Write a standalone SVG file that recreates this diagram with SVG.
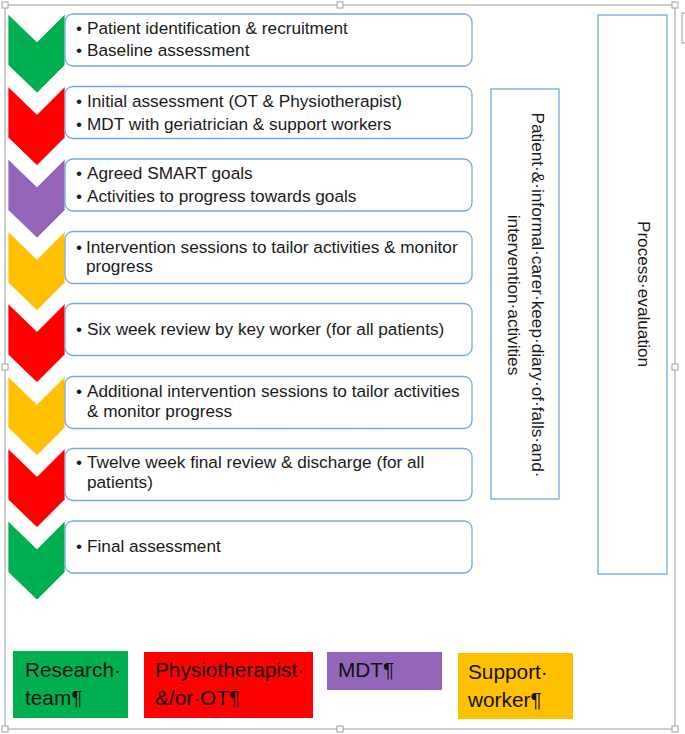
<svg xmlns="http://www.w3.org/2000/svg" width="685" height="734" viewBox="0 0 685 734">
<style>
.frame{fill:none;stroke:#b4b4b4;stroke-width:1.3}
.handle{fill:#fff;stroke:#a0a0a0;stroke-width:1}
.box{fill:#fff;stroke:#74a9df;stroke-width:1.3}
.t{font-family:"Liberation Sans",Arial,sans-serif;font-size:17.2px;fill:#1a1a1a}
.lg{font-family:"Liberation Sans",Arial,sans-serif;font-size:20.8px;fill:#111}
.g{fill:#00b050}.r{fill:#ff0000}.p{fill:#9565b9}.y{fill:#ffc000}
</style>
<defs>
<path id="chev" d="M8 0 L37 28 L65 0 V51 L37 79 L8 51 Z" stroke="#f2f7fc" stroke-width="0.8"/>
</defs>
<rect width="685" height="734" fill="#fff"/>
<g id="frame">
<rect class="frame" x="5" y="5" width="670" height="724"/>
<path class="frame" d="M686 13 H682 V43 H686"/>
<rect class="handle" x="2" y="2" width="6" height="6"/>
<rect class="handle" x="337" y="2" width="6" height="6"/>
<rect class="handle" x="672" y="2" width="6" height="6"/>
<rect class="handle" x="2" y="364" width="6" height="6"/>
<rect class="handle" x="672" y="364" width="6" height="6"/>
<rect class="handle" x="2" y="726" width="6" height="6"/>
<rect class="handle" x="337" y="726" width="6" height="6"/>
<rect class="handle" x="672" y="726" width="6" height="6"/>
</g>
<g id="connectors"></g>
<g id="step1" transform="translate(0,14)">
<use href="#chev" class="g"/>
<rect class="box" x="65" y="0" width="407" height="52" rx="8"/>
<text class="t" x="76" y="19.5">•</text><text class="t" x="87" y="19.5">Patient identification &amp; recruitment</text>
<text class="t" x="76" y="42">•</text><text class="t" x="87" y="42">Baseline assessment</text>
</g>
<g id="step2" transform="translate(0,86.5)">
<use href="#chev" class="r"/>
<rect class="box" x="65" y="0" width="407" height="52" rx="8"/>
<text class="t" x="76" y="20">•</text><text class="t" x="87" y="20">Initial assessment (OT &amp; Physiotherapist)</text>
<text class="t" x="76" y="43">•</text><text class="t" x="87" y="43">MDT with geriatrician &amp; support workers</text>
</g>
<g id="step3" transform="translate(0,159)">
<use href="#chev" class="p"/>
<rect class="box" x="65" y="0" width="407" height="52" rx="8"/>
<text class="t" x="76" y="19.5">•</text><text class="t" x="87" y="19.5">Agreed SMART goals</text>
<text class="t" x="76" y="43">•</text><text class="t" x="87" y="43">Activities to progress towards goals</text>
</g>
<g id="step4" transform="translate(0,231.5)">
<use href="#chev" class="y"/>
<rect class="box" x="65" y="0" width="407" height="52" rx="8"/>
<text class="t" x="76" y="21.5">•</text><text class="t" x="86" y="21.5">Intervention sessions to tailor activities &amp; monitor</text>
<text class="t" x="86" y="40">progress</text>
</g>
<g id="step5" transform="translate(0,303.5)">
<use href="#chev" class="r"/>
<rect class="box" x="65" y="0" width="407" height="52" rx="8"/>
<text class="t" x="76" y="31.5">•</text><text class="t" x="87" y="31.5">Six week review by key worker (for all patients)</text>
</g>
<g id="step6" transform="translate(0,376.5)">
<use href="#chev" class="y"/>
<rect class="box" x="65" y="0" width="407" height="52" rx="8"/>
<text class="t" x="76" y="20.5">•</text><text class="t" x="87" y="20.5">Additional intervention sessions to tailor activities</text>
<text class="t" x="87" y="40.5">&amp; monitor progress</text>
</g>
<g id="step7" transform="translate(0,448.5)">
<use href="#chev" class="r"/>
<rect class="box" x="65" y="0" width="407" height="52" rx="8"/>
<text class="t" x="76" y="19.5">•</text><text class="t" x="87" y="19.5">Twelve week final review &amp; discharge (for all</text>
<text class="t" x="87" y="39.5">patients)</text>
</g>
<g id="step8" transform="translate(0,521)">
<use href="#chev" class="g"/>
<rect class="box" x="65" y="0" width="407" height="52" rx="8"/>
<text class="t" x="76" y="31">•</text><text class="t" x="87" y="31">Final assessment</text>
</g>
<g id="diary">
<rect x="491" y="89" width="68" height="410" fill="#fff" stroke="#74a9df" stroke-width="1.3"/>
<g transform="translate(525,295) rotate(90)">
<text class="t" x="0" y="-7" text-anchor="middle">Patient·&amp;·informal·carer·keep·diary·of·falls·and·</text>
<text class="t" x="0" y="17" text-anchor="middle">intervention·activities</text>
</g>
</g>
<g id="process">
<rect x="598" y="15" width="69" height="559" fill="#fff" stroke="#74a9df" stroke-width="1.3"/>
<text class="t" transform="translate(632.5,294) rotate(90)" x="0" y="-5.5" text-anchor="middle">Process·evaluation</text>
</g>
<g id="legend-research">
<rect class="g" x="13" y="651" width="115" height="67"/>
<text class="lg" x="25" y="677">Research·</text>
<text class="lg" x="25" y="705">team¶</text>
</g>
<g id="legend-physio">
<rect class="r" x="144" y="652" width="169" height="66"/>
<text class="lg" x="155" y="677">Physiotherapist·</text>
<text class="lg" x="155" y="705">&amp;/or·OT¶</text>
</g>
<g id="legend-mdt">
<rect class="p" x="327" y="652" width="115" height="38"/>
<text class="lg" x="338" y="677">MDT¶</text>
</g>
<g id="legend-support">
<rect class="y" x="458" y="653" width="115" height="66"/>
<text class="lg" x="468" y="679">Support·</text>
<text class="lg" x="468" y="707">worker¶</text>
</g>
</svg>
